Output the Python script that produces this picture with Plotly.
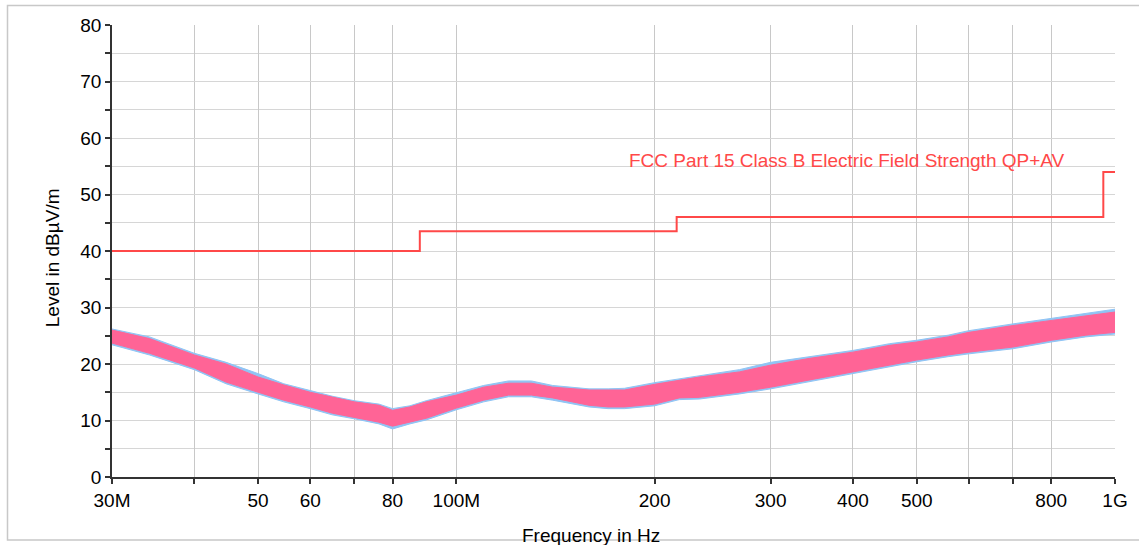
import math
import plotly.graph_objects as go

# ---- data (frequencies in MHz, levels in dBµV/m) ----
freq_mhz = [30, 34.2, 40, 44.7, 50, 54.7, 60, 64.8, 70, 76.3, 80, 85, 90, 100,
            110, 120, 130, 140, 150, 159, 170, 180, 200, 218, 234, 269, 300,
            344, 400, 455, 500, 558, 600, 700, 800, 903, 1000]
pink_hi = [26.0, 24.5, 21.6, 20.0, 17.7, 16.3, 15.0, 14.1, 13.3, 12.7, 11.8, 12.4,
           13.3, 14.5, 15.9, 16.6, 16.6, 15.9, 15.7, 15.4, 15.4, 15.4, 16.4, 17.1,
           17.7, 18.6, 19.8, 21.0, 22.1, 23.3, 23.9, 24.8, 25.6, 26.8, 27.7, 28.6, 29.2]
pink_lo = [23.7, 21.9, 19.3, 16.8, 15.0, 13.6, 12.4, 11.3, 10.6, 9.7, 9.0, 9.7,
           10.4, 12.2, 13.6, 14.5, 14.5, 14.0, 13.3, 12.7, 12.4, 12.4, 12.9, 14.0,
           14.1, 15.0, 15.9, 17.1, 18.6, 19.8, 20.7, 21.6, 22.1, 23.0, 24.2, 25.1, 25.6]
blue_hi = [26.2, 24.8, 21.9, 20.3, 18.3, 16.5, 15.3, 14.3, 13.5, 12.9, 12.1, 12.6,
           13.5, 14.9, 16.2, 17.0, 17.0, 16.2, 15.9, 15.6, 15.6, 15.7, 16.7, 17.4,
           18.0, 19.0, 20.3, 21.3, 22.4, 23.6, 24.2, 25.1, 25.9, 27.1, 28.1, 29.0, 29.7]
blue_lo = [23.4, 21.6, 19.0, 16.5, 14.7, 13.3, 12.1, 11.0, 10.3, 9.4, 8.5, 9.4,
           10.1, 11.9, 13.3, 14.2, 14.2, 13.6, 13.0, 12.4, 12.1, 12.1, 12.6, 13.7,
           13.8, 14.7, 15.6, 16.8, 18.3, 19.5, 20.4, 21.3, 21.8, 22.7, 23.9, 24.8, 25.3]

limit_freq_mhz = [30, 88, 216, 960, 1000]
limit_level = [40, 43.5, 46, 54, 54]
limit_name = "FCC Part 15 Class B Electric Field Strength QP+AV"

x_tick_mhz = [30, 40, 50, 60, 70, 80, 100, 200, 300, 400, 500, 600, 700, 800, 1000]
x_tick_text = ["30M", "", "50", "60", "", "80", "100M", "200", "300", "400", "500",
               "", "", "800", "1G"]

FONT = "Liberation Sans, Arial, sans-serif"
FS = 19

def hz(lst):
    return [v * 1e6 for v in lst]

fig = go.Figure()

# blue band (behind)
fig.add_trace(go.Scatter(
    x=hz(freq_mhz) + hz(freq_mhz[::-1]),
    y=blue_hi + blue_lo[::-1],
    fill="toself", fillcolor="#90c4f4",
    line=dict(color="#90c4f4", width=1),
    mode="lines", hoverinfo="skip", showlegend=False))

# pink band
fig.add_trace(go.Scatter(
    x=hz(freq_mhz) + hz(freq_mhz[::-1]),
    y=pink_hi + pink_lo[::-1],
    fill="toself", fillcolor="#ff6496",
    line=dict(color="#ff6496", width=1),
    mode="lines", hoverinfo="skip", showlegend=False))

# limit line
fig.add_trace(go.Scatter(
    x=hz(limit_freq_mhz), y=limit_level,
    mode="lines", line=dict(color="#ff4848", width=2, shape="hv"),
    name=limit_name, showlegend=False))

fig.add_annotation(
    text=limit_name, xref="paper", x=(627 - 112) / 1003, xanchor="left",
    yref="y", y=56, yanchor="middle", showarrow=False,
    font=dict(family=FONT, size=FS, color="#ff4848"))

# axis titles
fig.add_annotation(
    text="Frequency in Hz", xref="paper", x=(591 - 112) / 1003, xanchor="center",
    yref="paper", y=1 - (536 - 24.5) / 452.5, yanchor="middle", showarrow=False,
    font=dict(family=FONT, size=FS, color="black"))
fig.add_annotation(
    text="Level in dBµV/m", xref="paper", x=(52 - 112) / 1003, xanchor="center",
    yref="paper", y=1 - (258 - 24.5) / 452.5, yanchor="middle", showarrow=False,
    textangle=-90, font=dict(family=FONT, size=FS, color="black"))

# outer frame
fig.add_shape(type="rect", xref="paper", yref="paper",
              x0=(7.5 - 112) / 1003, x1=(1145 - 112) / 1003,
              y0=1 - (540 - 24.5) / 452.5, y1=1 - (5 - 24.5) / 452.5,
              line=dict(color="#c8c8c8", width=1.5), layer="below")

fig.update_layout(
    width=1139, height=545,
    margin=dict(l=112, r=24, t=24.5, b=68),
    paper_bgcolor="white", plot_bgcolor="white",
    font=dict(family=FONT, size=FS, color="black"),
    showlegend=False,
)
fig.update_xaxes(
    type="log", range=[math.log10(30e6), math.log10(1e9)],
    tickmode="array", tickvals=hz(x_tick_mhz), ticktext=x_tick_text,
    showgrid=True, gridcolor="#c8c8c8", gridwidth=1,
    showline=True, linecolor="#333333", linewidth=1.5,
    ticks="outside", ticklen=5, tickcolor="#333333", tickwidth=1.5,
    zeroline=False, tickfont=dict(family=FONT, size=FS, color="black"),
)
fig.update_yaxes(
    range=[0, 80], tick0=0, dtick=10,
    showgrid=True, gridcolor="#d6d6d6", gridwidth=1,
    showline=True, linecolor="#333333", linewidth=1.5,
    ticks="outside", ticklen=5, tickcolor="#333333", tickwidth=1.5,
    zeroline=False, tickfont=dict(family=FONT, size=FS, color="black"),
    minor=dict(dtick=5, showgrid=True, gridcolor="#d6d6d6", gridwidth=1,
               ticks="outside", ticklen=5, tickcolor="#333333"),
)

fig.write_html("out.html")
